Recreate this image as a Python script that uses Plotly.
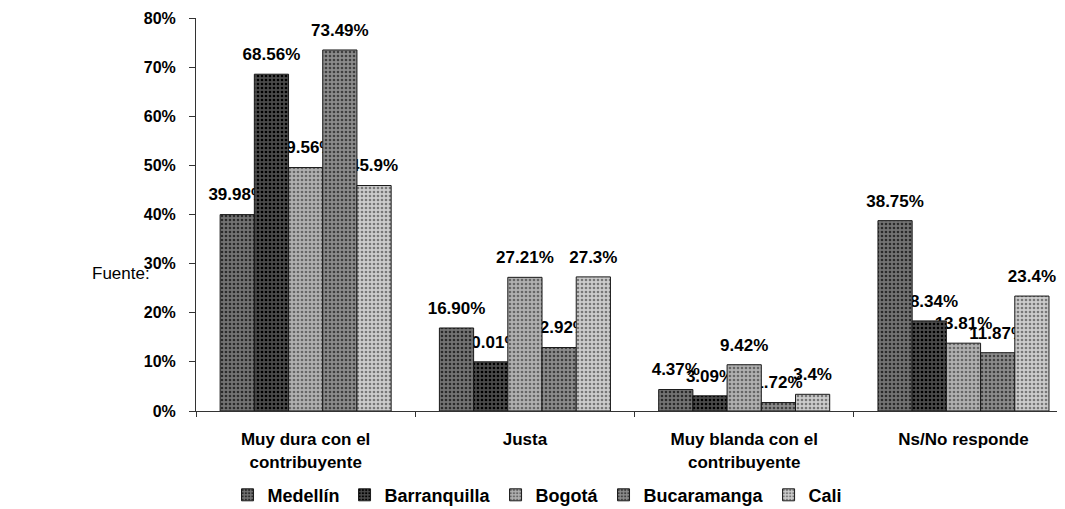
import plotly.graph_objects as go

categories = ["Muy dura con el<br>contribuyente", "Justa", "Muy blanda con el<br>contribuyente", "Ns/No responde"]
series_names = ["Medellín", "Barranquilla", "Bogotá", "Bucaramanga", "Cali"]

medellin = [39.98, 16.90, 4.37, 38.75]
barranquilla = [68.56, 10.01, 3.09, 18.34]
bogota = [49.56, 27.21, 9.42, 13.81]
bucaramanga = [73.49, 12.92, 1.72, 11.87]
cali = [45.9, 27.3, 3.4, 23.4]

medellin_lbl = ["39.98%", "16.90%", "4.37%", "38.75%"]
barranquilla_lbl = ["68.56%", "10.01%", "3.09%", "18.34%"]
bogota_lbl = ["49.56%", "27.21%", "9.42%", "13.81%"]
bucaramanga_lbl = ["73.49%", "12.92%", "1.72%", "11.87%"]
cali_lbl = ["45.9%", "27.3%", "3.4%", "23.4%"]

y_ticks = [0, 0.1, 0.2, 0.3, 0.4, 0.5, 0.6, 0.7, 0.8]

values = [medellin, barranquilla, bogota, bucaramanga, cali]
labels = [medellin_lbl, barranquilla_lbl, bogota_lbl, bucaramanga_lbl, cali_lbl]

styles = [
    dict(bg="#737373", fg="#2a2a2a"),
    dict(bg="#4a4a4a", fg="#000000"),
    dict(bg="#b0b0b0", fg="#666666"),
    dict(bg="#8c8c8c", fg="#404040"),
    dict(bg="#cccccc", fg="#777777"),
]

FONT = "Liberation Sans, Arial, sans-serif"
Y_MAX = 0.8
LABEL_LIFT = 0.0145  # lifts the label layer a few pixels above the bar tops

fig = go.Figure()

# label layer on the lower subplot (drawn first, so bars cover it where they overlap)
for name, vals, lbl in zip(series_names, values, labels):
    fig.add_trace(go.Bar(
        x=categories, y=[v / 100 for v in vals], name=name, offsetgroup=name,
        yaxis="y",
        text=lbl, textposition="outside", constraintext="none", cliponaxis=False,
        textfont=dict(family=FONT, size=17, color="black", weight="bold"),
        marker=dict(color="rgba(0,0,0,0)", line=dict(width=0)),
        showlegend=False, hoverinfo="skip",
    ))

# bars on the overlaying subplot
for name, vals, st in zip(series_names, values, styles):
    fig.add_trace(go.Bar(
        x=categories, y=[v / 100 for v in vals], name=name, offsetgroup=name,
        yaxis="y2",
        marker=dict(
            color=st["bg"],
            line=dict(color="#1a1a1a", width=1),
            pattern=dict(shape=".", bgcolor=st["bg"], fgcolor=st["fg"],
                         size=4, solidity=0.35, fillmode="replace"),
        ),
    ))

# the page body keeps an 8px default margin, so the figure is sized to fit the window
fig.update_layout(
    width=1057, height=501,
    margin=dict(l=188, r=0, t=10, b=98, autoexpand=False),
    paper_bgcolor="white", plot_bgcolor="white",
    barmode="group", bargap=0.22, bargroupgap=0,
    font=dict(family=FONT, color="black"),
    legend=dict(
        orientation="h", x=0.393, xanchor="center", y=-0.214, yanchor="middle",
        font=dict(family=FONT, size=18, color="black", weight="bold"),
        bgcolor="rgba(0,0,0,0)", traceorder="normal",
    ),
    xaxis=dict(
        type="category", range=[-0.5, 3.463],
        showline=True, linecolor="#333333", linewidth=1,
        ticks="outside", tickson="boundaries", ticklen=5, tickcolor="#333333",
        tickfont=dict(family=FONT, size=17, color="black", weight="bold"),
        showgrid=False, zeroline=False, ticklabelstandoff=13,
    ),
    yaxis=dict(
        range=[-LABEL_LIFT, Y_MAX - LABEL_LIFT], visible=False,
        showgrid=False, zeroline=False,
    ),
    yaxis2=dict(
        overlaying="y", side="left", anchor="x",
        range=[0, Y_MAX], tickvals=y_ticks, tickformat=".0%",
        showline=True, linecolor="#333333", linewidth=1,
        ticks="outside", ticklen=6, tickcolor="#333333",
        tickfont=dict(family=FONT, size=16, color="black", weight="bold"),
        showgrid=False, zeroline=False, ticklabelstandoff=10,
    ),
    annotations=[dict(
        text="Fuente:", xref="paper", yref="paper", x=-0.122, y=0.351,
        xanchor="left", yanchor="middle", showarrow=False,
        font=dict(family=FONT, size=17, color="black"),
    )],
)

fig.write_html("out.html")
